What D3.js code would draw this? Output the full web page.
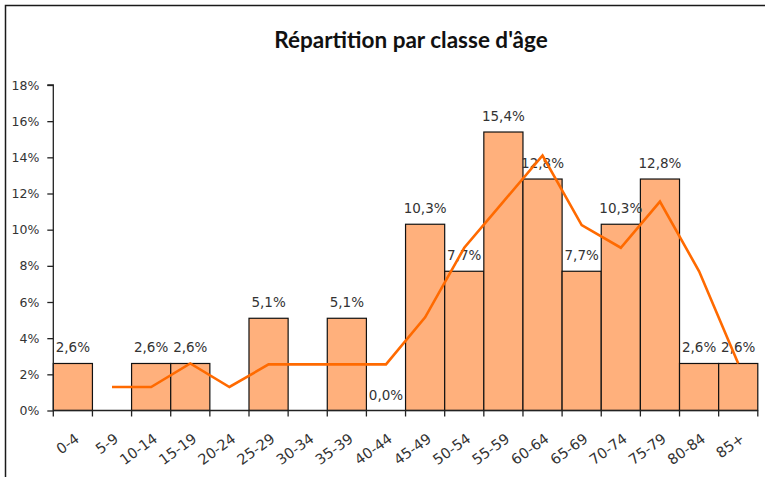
<!DOCTYPE html>
<html>
<head>
<meta charset="utf-8">
<script src="https://cdn.jsdelivr.net/npm/d3@7/dist/d3.min.js"></script>
<style>
  html, body { margin: 0; padding: 0; background: #fff; }
  svg { display: block; }
</style>
</head>
<body>
<script>
const categories = ["0-4","5-9","10-14","15-19","20-24","25-29","30-34","35-39","40-44","45-49","50-54","55-59","60-64","65-69","70-74","75-79","80-84","85+"];
const barValues = [2.6, null, 2.6, 2.6, null, 5.1, null, 5.1, 0.0, 10.3, 7.7, 15.4, 12.8, 7.7, 10.3, 12.8, 2.6, 2.6];
const lineValues = [null, 1.3, 1.3, 2.6, 1.3, 2.55, 2.55, 2.55, 2.55, 5.15, 9.0, 11.55, 14.1, 10.25, 9.0, 11.55, 7.7, 2.6];
const yTicks = [0, 2, 4, 6, 8, 10, 12, 14, 16, 18];
const title = "Répartition par classe d'âge";

const W = 765, H = 477;
const svg = d3.select("body").append("svg").attr("width", W).attr("height", H);

// outer frame
svg.append("rect").attr("x", 5.5).attr("y", 5.5).attr("width", W + 10).attr("height", H + 10)
  .attr("fill", "#fff").attr("stroke", "#1a1a1a").attr("stroke-width", 1.5);

const m = { left: 53.3, right: 757.8, top: 85, bottom: 410.5 };
const x = d3.scaleBand().domain(categories).range([m.left, m.right]).padding(0);
const y = d3.scaleLinear().domain([0, 18]).range([m.bottom, m.top]);

svg.append("text").attr("x", 411).attr("y", 48).attr("text-anchor", "middle")
  .attr("font-family", "Lato, 'Open Sans', sans-serif").attr("font-weight", "bold")
  .attr("font-size", 22.5).attr("fill", "#111").text(title);

// bars
const barData = categories.map((c, i) => ({ c, v: barValues[i] })).filter(d => d.v !== null);
svg.append("g").selectAll("rect").data(barData).join("rect")
  .attr("x", d => x(d.c)).attr("y", d => y(d.v))
  .attr("width", x.bandwidth()).attr("height", d => y(0) - y(d.v))
  .attr("fill", "#FFB07C").attr("stroke", "#111").attr("stroke-width", 1.2);

// y axis
const yAxis = d3.axisLeft(y).tickValues(yTicks).tickFormat(d => d + "%").tickSize(6).tickPadding(8);
const gy = svg.append("g").attr("transform", `translate(${m.left},0)`).call(yAxis);
gy.select(".domain").attr("stroke", "#222").attr("stroke-width", 1.3).attr("d", `M-6,${m.top}H0V${m.bottom}`);
gy.selectAll(".tick line").attr("stroke", "#222").attr("stroke-width", 1.3);
gy.selectAll("text").attr("font-family", "'DejaVu Sans', sans-serif").attr("font-size", 12.5).attr("fill", "#333");

// x axis
const xAxis = d3.axisBottom(x).tickSize(0).tickFormat("");
const gx = svg.append("g").attr("transform", `translate(0,${m.bottom})`).call(xAxis);
gx.select(".domain").attr("stroke", "#222").attr("stroke-width", 1.3).attr("d", `M${m.left},0H${m.right}`);
gx.selectAll(".tick").remove();
const edges = categories.map(c => x(c)).concat([m.right]);
svg.append("g").selectAll("line").data(edges).join("line")
  .attr("x1", d => d).attr("x2", d => d).attr("y1", m.bottom).attr("y2", m.bottom + 6)
  .attr("stroke", "#222").attr("stroke-width", 1.3);
svg.append("g").selectAll("text").data(categories).join("text")
  .attr("transform", d => `translate(${x(d) + x.bandwidth() / 2 + 5},${m.bottom + 27}) rotate(-36)`)
  .attr("text-anchor", "end").attr("dominant-baseline", "middle")
  .attr("font-family", "'DejaVu Sans', sans-serif").attr("font-size", 14.5).attr("fill", "#333")
  .text(d => d);

// data labels
const fmt = v => v.toFixed(1).replace(".", ",") + "%";
svg.append("g").selectAll("text").data(barData).join("text")
  .attr("x", d => x(d.c) + x.bandwidth() / 2).attr("y", d => y(d.v) - 11)
  .attr("text-anchor", "middle")
  .attr("font-family", "'DejaVu Sans', sans-serif").attr("font-size", 13.5).attr("fill", "#333")
  .text(d => fmt(d.v));

// moving-average line
const lineData = categories.map((c, i) => ({ c, v: lineValues[i] })).filter(d => d.v !== null);
const line = d3.line().x(d => x(d.c) + x.bandwidth() / 2).y(d => y(d.v));
svg.append("path").datum(lineData).attr("d", line)
  .attr("fill", "none").attr("stroke", "#FF6A00").attr("stroke-width", 2.6)
  .attr("stroke-linejoin", "miter");
</script>
</body>
</html>
